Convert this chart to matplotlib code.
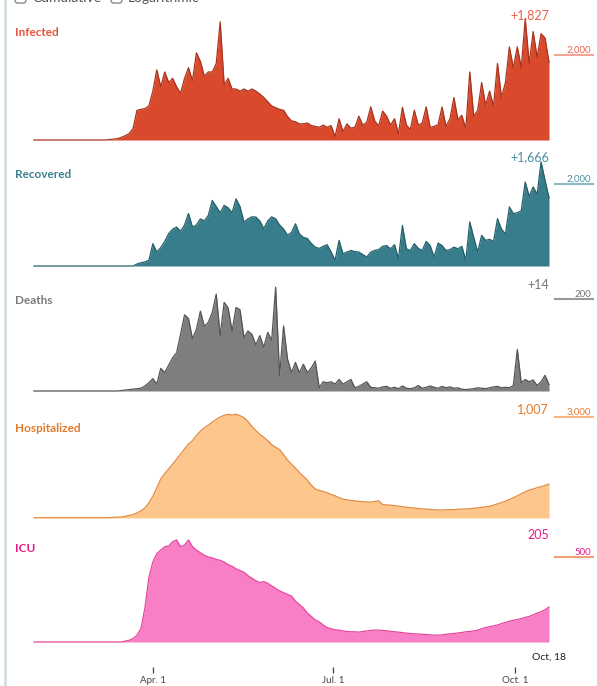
import pandas as pd
import matplotlib.pyplot as plt
from matplotlib.lines import Line2D
from matplotlib.patches import FancyBboxPatch

plt.rcParams['font.family'] = ['Lato', 'DejaVu Sans']

W, H = 597, 686

# one sample every 2 days, Feb 1 -> Oct 18
dates = pd.date_range("2020-02-01", "2020-10-18", freq="2D")

infected = [
    0, 0, 0, 0, 0, 0, 0, 0, 0, 0,
    0, 0, 0, 0, 0, 0, 0, 0, 0, 10,
    20, 30, 60, 100, 150, 270, 700, 720, 740, 800,
    1150, 1650, 1250, 1600, 1350, 1450, 1250, 1100, 1450, 1700,
    1400, 2050, 1850, 1500, 1600, 1600, 1800, 2780, 1300, 1450,
    1200, 1200, 1150, 1200, 1150, 1200, 1150, 1080, 1000, 900,
    800, 760, 720, 700, 550, 450, 430, 380, 380, 400,
    340, 320, 300, 350, 300, 340, 80, 500, 200, 380,
    280, 300, 560, 350, 420, 780, 450, 330, 680, 560,
    350, 500, 150, 770, 350, 250, 700, 350, 400, 780,
    300, 320, 360, 780, 320, 500, 1000, 480, 580, 270,
    1600, 560, 700, 1350, 820, 1150, 800, 1800, 1000, 1350,
    2190, 1700, 2190, 1700, 2860, 1800, 2550, 1950, 2500, 2400,
    1827,
]

recovered = [
    0, 0, 0, 0, 0, 0, 0, 0, 0, 0,
    0, 0, 0, 0, 0, 0, 0, 0, 0, 0,
    0, 0, 0, 0, 0, 0, 50, 80, 100, 140,
    545, 340, 450, 600, 790, 900, 950, 850, 1000, 1280,
    950, 1000, 1150, 1100, 1235, 1600, 1450, 1300, 1480, 1420,
    1300, 1640, 1450, 1070, 1150, 1200, 1195, 1100, 910, 1100,
    1200, 1150, 1000, 900, 750, 820, 1030, 780, 700, 670,
    550, 460, 430, 480, 520, 340, 140, 625, 300, 340,
    380, 350, 340, 280, 220, 340, 380, 400, 480, 500,
    420, 520, 180, 990, 420, 380, 545, 430, 380, 600,
    500, 220, 560, 500, 380, 400, 460, 420, 480, 140,
    1075, 700, 340, 750, 625, 650, 600, 1155, 900, 780,
    1440, 1280, 1300, 1350, 2050, 1700, 1930, 1750, 2540, 2090,
    1666,
]

deaths = [
    0, 0, 0, 0, 0, 0, 0, 0, 0, 0,
    0, 0, 0, 0, 0, 0, 0, 0, 0, 0,
    0, 0, 1, 2, 3, 4, 5, 6, 11, 18,
    27, 15, 49, 40, 56, 72, 83, 123, 165, 157,
    113, 134, 173, 140, 149, 170, 210, 120, 192, 180,
    130, 181, 176, 116, 130, 123, 100, 120, 95, 127,
    110, 225, 33, 141, 69, 40, 62, 40, 58, 40,
    50, 65, 7, 20, 18, 20, 15, 25, 15, 20,
    25, 7, 10, 15, 20, 8, 7, 6, 9, 10,
    6, 8, 5, 11, 6, 5, 7, 12, 6, 8,
    11, 8, 6, 10, 7, 9, 6, 7, 4, 3,
    4, 5, 7, 6, 5, 7, 9, 10, 7, 8,
    7, 12, 90, 18, 25, 20, 24, 12, 20, 34,
    14,
]

hospitalized = [
    10, 10, 10, 10, 10, 10, 10, 10, 10, 10,
    10, 10, 10, 10, 10, 10, 10, 10, 10, 10,
    20, 25, 30, 50, 80, 100, 150, 210, 300, 450,
    650, 900, 1160, 1320, 1460, 1600, 1750, 1900, 2050, 2200,
    2300, 2450, 2580, 2680, 2760, 2850, 2930, 3000, 3050, 3080,
    3060, 3080, 3040, 2980, 2870, 2720, 2600, 2480, 2400, 2300,
    2180, 2100, 2030, 1880, 1720, 1600, 1480, 1350, 1240, 1120,
    980, 860, 820, 790, 750, 700, 660, 600, 560, 540,
    520, 510, 495, 485, 475, 470, 490, 510, 400, 390,
    380, 370, 350, 335, 320, 305, 295, 280, 270, 265,
    255, 245, 235, 235, 245, 250, 245, 260, 265, 270,
    275, 290, 300, 320, 330, 350, 380, 420, 460, 500,
    550, 600, 660, 720, 780, 830, 860, 900, 930, 970,
    1007,
]

icu = [
    0, 0, 0, 0, 0, 0, 0, 0, 0, 0,
    0, 0, 0, 0, 0, 0, 0, 0, 0, 0,
    0, 0, 0, 5, 10, 20, 40, 80, 200, 380,
    470, 520, 540, 560, 565, 590, 600, 560, 570, 600,
    560, 540, 525, 510, 500, 495, 485, 480, 470, 455,
    445, 430, 420, 410, 390, 375, 360, 350, 355, 345,
    330, 315, 300, 290, 280, 270, 240, 220, 200, 170,
    150, 130, 118, 100, 85, 78, 72, 70, 65, 62,
    60, 60, 58, 62, 65, 68, 70, 70, 68, 66,
    63, 60, 58, 55, 52, 50, 48, 47, 45, 44,
    42, 41, 40, 42, 45, 48, 50, 53, 56, 60,
    62, 65, 70, 78, 85, 90, 95, 100, 108, 115,
    122, 128, 132, 138, 145, 150, 160, 170, 178, 190,
    205,
]

names = ["Infected", "Recovered", "Deaths", "Hospitalized", "ICU"]
series = [infected, recovered, deaths, hospitalized, icu]
last_labels = ["+1,827", "+1,666", "+14", "1,007", "205"]
ref_values = [2000, 2000, 200, 3000, 500]
ref_labels = ["2,000", "2,000", "200", "3,000", "500"]

# layout / style per panel (pixel positions)
tops = [15, 150, 283, 410, 535]
bases = [140, 266, 391, 518, 642]
ymax = [2940, 2830, 234, 3208, 629]
name_y = [32, 175, 301, 428, 549]
last_y = [15, 157, 285, 409, 535]
fills = ["#d9492c", "#387d8b", "#7e7e7e", "#fdc68c", "#f87fc6"]
edges = ["#a9331d", "#25606b", "#555555", "#e48b40", "#e5479d"]
name_cols = ["#e8533b", "#3a8191", "#7b7b7b", "#e07a2e", "#e8198c"]
last_cols = ["#ea614b", "#4b90a2", "#777777", "#e07a2e", "#e8198c"]
ref_cols = ["#f0a596", "#8dbac3", "#999999", "#f4b98a", "#f2a07c"]

x0, x1 = 34, 549


def fx(x):
    return x / W


def fy(y):
    return 1 - y / H


fig = plt.figure(figsize=(W / 100, H / 100), dpi=100)

for i in range(5):
    ax = fig.add_axes([fx(x0), fy(bases[i]), (x1 - x0) / W, (bases[i] - tops[i]) / H])
    ax.fill_between(dates, series[i], color=fills[i], lw=0)
    ax.plot(dates, series[i], color=edges[i], lw=0.9, clip_on=False)
    ax.set_xlim(dates[0], dates[-1])
    ax.set_ylim(0, ymax[i])
    ax.axis("off")

    # reference line to the right of the panel
    tr = ax.get_yaxis_transform()
    ax.plot([1.012, 1.085], [ref_values[i], ref_values[i]], transform=tr,
            color=ref_cols[i], lw=1.5, clip_on=False)
    ax.text(1.082, ref_values[i], ref_labels[i], transform=tr, ha="right", va="bottom",
            fontsize=7, color=last_cols[i])

    fig.text(fx(15), fy(name_y[i]), names[i], fontsize=8.5, fontweight="bold",
             color=name_cols[i], ha="left", va="center")
    fig.text(fx(549), fy(last_y[i]), last_labels[i], fontsize=9,
             color=last_cols[i], ha="right", va="center")

# date axis
ax_t = fig.add_axes([fx(x0), fy(667), (x1 - x0) / W, 0.0001])
ax_t.set_xlim(dates[0], dates[-1])
for s in ax_t.spines.values():
    s.set_visible(False)
ax_t.patch.set_visible(False)
ax_t.set_yticks([])
ax_t.set_xticks(pd.to_datetime(["2020-04-01", "2020-07-01", "2020-10-01"]))
ax_t.set_xticklabels(["Apr. 1", "Jul. 1", "Oct. 1"])
ax_t.tick_params(axis="x", direction="out", length=4.5, width=0.9, color="#444444",
                 labelsize=7, pad=2, labelcolor="#444444")
fig.text(fx(549), fy(657), "Oct, 18", fontsize=7.5, color="#222222",
         ha="center", va="center")

# left border
fig.add_artist(Line2D([fx(5), fx(5)], [0, 1], transform=fig.transFigure,
                      color="#d2dfe2", lw=2))

# clipped toggle controls at the top
for bx, label in [(15, "Cumulative"), (111, "Logarithmic")]:
    fig.add_artist(FancyBboxPatch((fx(bx), fy(3)), 11 / W, 10 / H,
                                  boxstyle="round,pad=0,rounding_size=0.004",
                                  transform=fig.transFigure, facecolor="white",
                                  edgecolor="#8a8a8a", lw=1))
    fig.text(fx(bx + 17), fy(-2), label, fontsize=10, color="#555555",
             ha="left", va="center")

fig.savefig("out.png", dpi=100)
